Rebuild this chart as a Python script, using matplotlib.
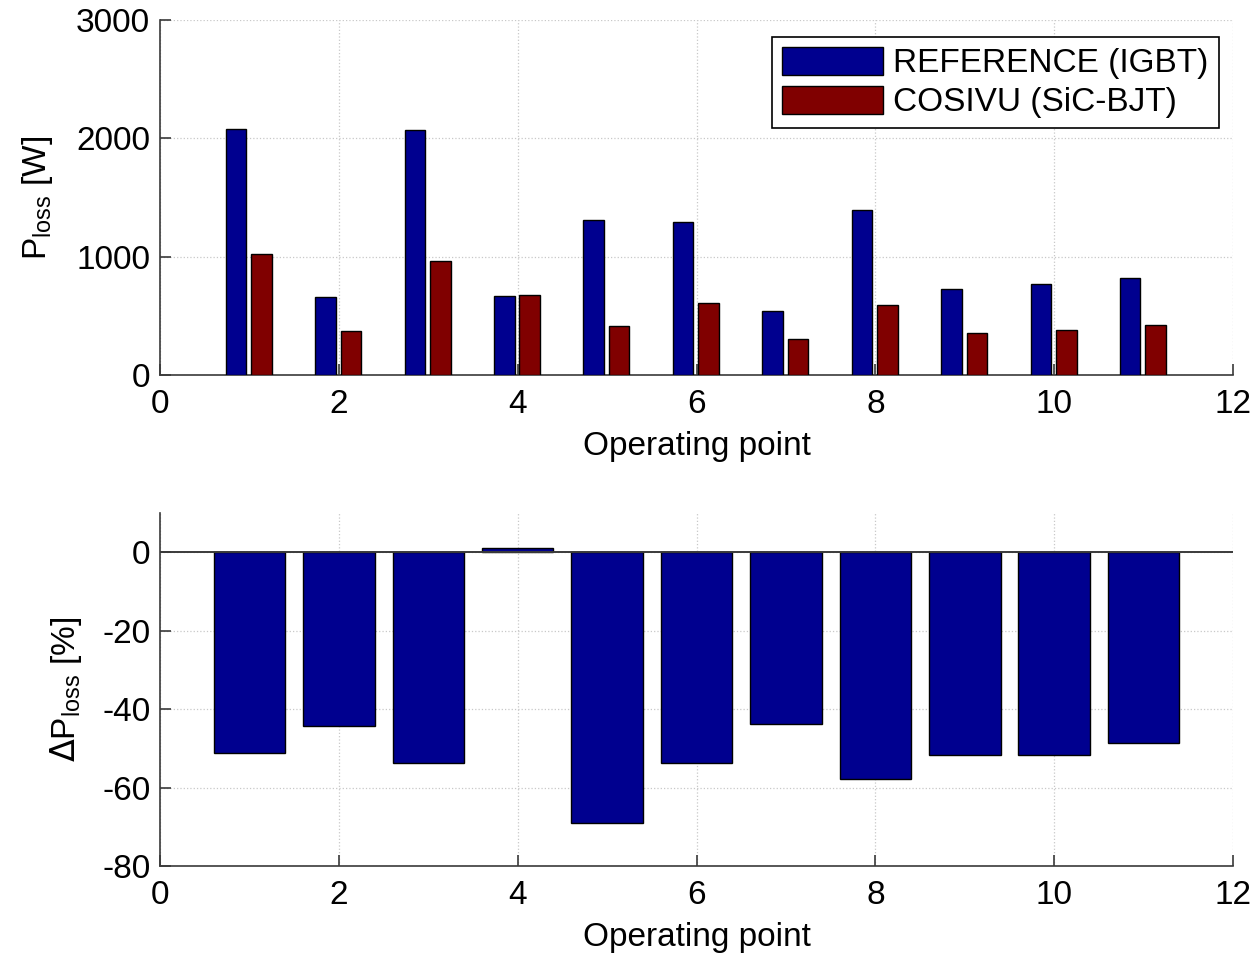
import numpy as np
import matplotlib
matplotlib.use('Agg')
import matplotlib.pyplot as plt

# operating points and loss values
op_points = np.arange(1, 12)
p_ref = [2077, 662, 2068, 670, 1308, 1293, 541, 1397, 724, 766, 817]
p_cosivu = [1023, 375, 966, 676, 411, 608, 307, 594, 358, 378, 423]
dp_loss = [-51.1, -44.2, -53.8, 1.2, -69.1, -53.8, -43.9, -57.9, -51.8, -51.6, -48.7]

labels = ['REFERENCE (IGBT)', 'COSIVU (SiC-BJT)']
c_blue = '#00008F'
c_red = '#800000'

plt.rcParams['font.family'] = ['Liberation Sans', 'DejaVu Sans']
plt.rcParams['font.size'] = 24
plt.rcParams['axes.unicode_minus'] = False
spine_c = '#3a3a3a'
fs = 24

fig = plt.figure(figsize=(12.55, 9.55), dpi=100)
ax1 = fig.add_axes([0.1275, 0.6073, 0.855, 0.3717])
ax2 = fig.add_axes([0.1275, 0.0932, 0.855, 0.3696])

def style(ax):
    for s in ['top', 'right']:
        ax.spines[s].set_visible(False)
    for s in ['left', 'bottom']:
        ax.spines[s].set_color(spine_c)
        ax.spines[s].set_linewidth(1.2)
    ax.tick_params(direction='in', length=8, width=1.2, color=spine_c, labelsize=fs, pad=7)
    ax.tick_params(axis='x', pad=10)
    ax.grid(True, linestyle=':', color='#c8c8c8', linewidth=0.9)
    ax.set_axisbelow(True)
    ax.set_xlim(0, 12)
    ax.set_xticks(range(0, 13, 2))
    ax.set_xlabel('Operating point', fontsize=fs, labelpad=8)

# top: absolute losses
w = 0.23
ax1.bar(op_points - 0.15, p_ref, w, color=c_blue, edgecolor='black', linewidth=1.0, label=labels[0], zorder=3)
ax1.bar(op_points + 0.135, p_cosivu, w, color=c_red, edgecolor='black', linewidth=1.0, label=labels[1], zorder=3)
style(ax1)
ax1.set_ylim(0, 3000)
ax1.set_yticks([0, 1000, 2000, 3000])
ax1.set_ylabel(r'P$_\mathregular{loss}$ [W]', fontsize=fs, labelpad=15)
leg = ax1.legend(loc='upper right', bbox_to_anchor=(0.9865, 0.952), fancybox=False, framealpha=1,
                 edgecolor='black', fontsize=fs, handlelength=3.05, handleheight=0.9,
                 borderpad=0.3, labelspacing=0.2, handletextpad=0.3, borderaxespad=0)
leg.get_frame().set_linewidth(1.2)

# bottom: relative change
ax2.bar(op_points, dp_loss, 0.8, color=c_blue, edgecolor='black', linewidth=1.0, zorder=3)
ax2.axhline(0, color=spine_c, linewidth=1.4, zorder=4)
style(ax2)
ax2.set_ylim(-80, 10)
ax2.set_yticks([-80, -60, -40, -20, 0])
ax2.set_ylabel(r'$\Delta$P$_\mathregular{loss}$ [%]', fontsize=fs, labelpad=13)

fig.savefig('out.png', dpi=100)
